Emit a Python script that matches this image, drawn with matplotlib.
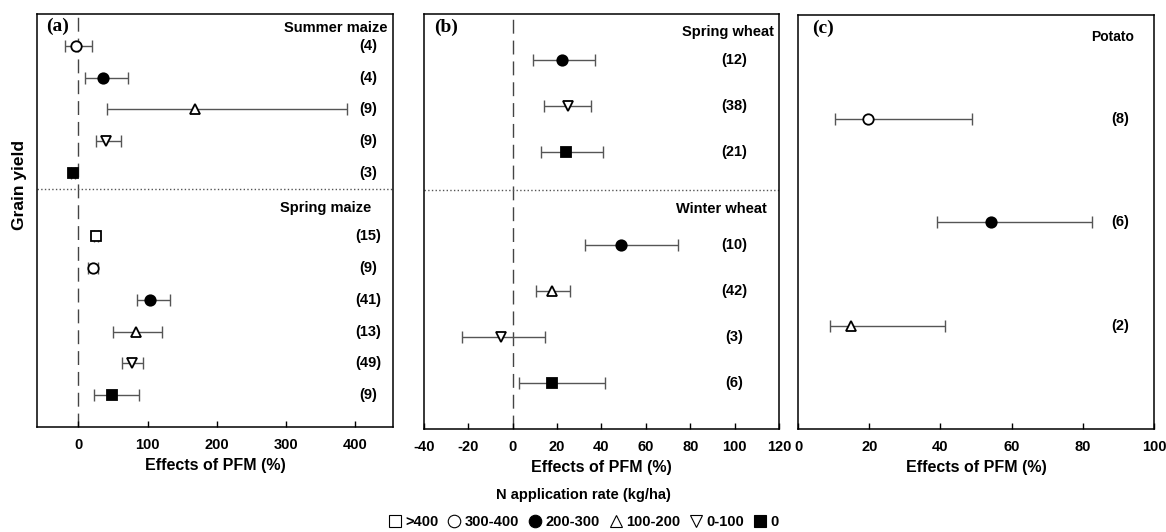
import numpy as np
import matplotlib
matplotlib.use("Agg")
import matplotlib.pyplot as plt
from matplotlib.lines import Line2D

plt.rcParams['font.family'] = ['Liberation Sans', 'DejaVu Sans']
plt.rcParams['axes.unicode_minus'] = False

# N application rate classes
rate_classes = ['>400', '300-400', '200-300', '100-200', '0-100', '0']

# (a) maize
summer_maize_rate = ['300-400', '200-300', '100-200', '0-100', '0']
summer_maize_mean = [-3, 36, 169, 40, -8]
summer_maize_lo = [-20, 10, 42, 25, -11]
summer_maize_hi = [19, 72, 388, 61, -5]
summer_maize_n = [4, 4, 9, 9, 3]

spring_maize_rate = ['>400', '300-400', '200-300', '100-200', '0-100', '0']
spring_maize_mean = [26, 21, 103, 83, 78, 48]
spring_maize_lo = [23, 14, 85, 50, 63, 22]
spring_maize_hi = [29, 29, 133, 121, 93, 88]
spring_maize_n = [15, 9, 41, 13, 49, 9]

# (b) wheat
spring_wheat_rate = ['200-300', '0-100', '0']
spring_wheat_mean = [22.4, 24.8, 23.8]
spring_wheat_lo = [9.3, 14.0, 12.6]
spring_wheat_hi = [36.9, 35.4, 40.5]
spring_wheat_n = [12, 38, 21]

winter_wheat_rate = ['200-300', '100-200', '0-100', '0']
winter_wheat_mean = [49.0, 17.5, -5.4, 17.9]
winter_wheat_lo = [32.6, 10.6, -22.9, 2.9]
winter_wheat_hi = [74.3, 25.6, 14.6, 41.7]
winter_wheat_n = [10, 42, 3, 6]

# (c) potato
potato_rate = ['300-400', '200-300', '100-200']
potato_mean = [19.8, 54.2, 14.8]
potato_lo = [10.5, 39.1, 9.0]
potato_hi = [49.0, 82.6, 41.3]
potato_n = [8, 6, 2]

styles = {
    '>400': ('s', 'white'),
    '300-400': ('o', 'white'),
    '200-300': ('o', 'black'),
    '100-200': ('^', 'white'),
    '0-100': ('v', 'white'),
    '0': ('s', 'black'),
}


def draw_rows(ax, ys, rate, mean, lo, hi, n, nx):
    for y, r, m, l, h, k in zip(ys, rate, mean, lo, hi, n):
        mk, fc = styles[r]
        ax.errorbar(m, y, xerr=[[m - l], [h - m]], fmt='none', ecolor='#555555',
                    elinewidth=1, capsize=4, capthick=1, zorder=2)
        ax.plot(m, y, marker=mk, mfc=fc, mec='black', mew=1.3, ms=7.5, ls='none', zorder=3)
        ax.text(nx, y, '(%d)' % k, transform=ax.get_yaxis_transform(),
                ha='center', va='center', fontsize=10.5, fontweight='bold')


def style_axis(ax, xlim, xticks, ylim):
    ax.set_xlim(*xlim)
    ax.set_ylim(*ylim)
    ax.set_xticks(xticks)
    ax.set_yticks([])
    ax.tick_params(axis='x', direction='in', length=4, width=1, pad=8, labelsize=10.5)
    for lab in ax.get_xticklabels():
        lab.set_fontweight('bold')
    for s in ax.spines.values():
        s.set_linewidth(1.1)
    ax.set_xlabel('Effects of PFM (%)', fontsize=11.5, fontweight='bold', labelpad=4)


fig = plt.figure(figsize=(11.66, 5.32), dpi=100)
ax_a = fig.add_axes([0.0317, 0.1974, 0.3053, 0.7763])
ax_b = fig.add_axes([0.3636, 0.1936, 0.3045, 0.7800])
ax_c = fig.add_axes([0.6844, 0.1936, 0.3053, 0.7780])

# panel a
n1 = len(summer_maize_mean)
ys1 = np.arange(1, n1 + 1)
ys2 = np.arange(n1 + 2, n1 + 2 + len(spring_maize_mean))
draw_rows(ax_a, ys1, summer_maize_rate, summer_maize_mean, summer_maize_lo,
          summer_maize_hi, summer_maize_n, 0.93)
draw_rows(ax_a, ys2, spring_maize_rate, spring_maize_mean, spring_maize_lo,
          spring_maize_hi, spring_maize_n, 0.93)
style_axis(ax_a, (-60, 455), [0, 100, 200, 300, 400], (ys2[-1] + 1, 0))
ax_a.axvline(0, color='#444444', lw=1, ls=(0, (10, 5)), zorder=1)
ax_a.axhline(n1 + 0.5, color='#555555', lw=1, ls=':', zorder=1)
ax_a.text(0.985, 0.45, 'Summer maize', transform=ax_a.get_yaxis_transform(),
          ha='right', va='center', fontsize=10.5, fontweight='bold')
ax_a.text(0.94, n1 + 1.1, 'Spring maize', transform=ax_a.get_yaxis_transform(),
          ha='right', va='center', fontsize=10.5, fontweight='bold')
ax_a.text(0.025, 0.99, '(a)', transform=ax_a.transAxes, ha='left', va='top',
          fontsize=14, fontweight='bold', family='Liberation Serif')

# panel b
m1 = len(spring_wheat_mean)
yb1 = np.arange(1, m1 + 1)
yb2 = np.arange(m1 + 2, m1 + 2 + len(winter_wheat_mean))
draw_rows(ax_b, yb1, spring_wheat_rate, spring_wheat_mean, spring_wheat_lo,
          spring_wheat_hi, spring_wheat_n, 0.873)
draw_rows(ax_b, yb2, winter_wheat_rate, winter_wheat_mean, winter_wheat_lo,
          winter_wheat_hi, winter_wheat_n, 0.873)
style_axis(ax_b, (-40, 120), np.arange(-40, 121, 20), (yb2[-1] + 1, 0))
ax_b.axvline(0, color='#444444', lw=1, ls=(0, (10, 5)), zorder=1)
ax_b.axhline(m1 + 0.82, color='#555555', lw=1, ls=':', zorder=1)
ax_b.text(0.985, 0.4, 'Spring wheat', transform=ax_b.get_yaxis_transform(),
          ha='right', va='center', fontsize=10.5, fontweight='bold')
ax_b.text(0.965, m1 + 1.23, 'Winter wheat', transform=ax_b.get_yaxis_transform(),
          ha='right', va='center', fontsize=10.5, fontweight='bold')
ax_b.text(0.03, 0.99, '(b)', transform=ax_b.transAxes, ha='left', va='top',
          fontsize=14, fontweight='bold', family='Liberation Serif')

# panel c
yc = np.arange(1, len(potato_mean) + 1)
draw_rows(ax_c, yc, potato_rate, potato_mean, potato_lo, potato_hi, potato_n, 0.906)
style_axis(ax_c, (0, 100), np.arange(0, 101, 20), (yc[-1] + 1, 0))
ax_c.text(0.945, 0.21, 'Potato', transform=ax_c.get_yaxis_transform(),
          ha='right', va='center', fontsize=10, fontweight='bold')
ax_c.text(0.04, 0.99, '(c)', transform=ax_c.transAxes, ha='left', va='top',
          fontsize=14, fontweight='bold', family='Liberation Serif')

fig.text(20 / 1166, 1 - 185 / 532, 'Grain yield', rotation=90, ha='center', va='center',
         fontsize=12.5, fontweight='bold')
fig.text(0.5, 1 - 495 / 532, 'N application rate (kg/ha)', ha='center', va='center',
         fontsize=10.5, fontweight='bold')

handles = []
for r in rate_classes:
    mk, fc = styles[r]
    handles.append(Line2D([], [], marker=mk, mfc=fc, mec='black', mew=0.8, ms=9, ls='none'))
fig.legend(handles, rate_classes, loc='center', bbox_to_anchor=(0.5, 1 - 522 / 532),
           ncol=6, frameon=False, handletextpad=0.2, columnspacing=0.6,
           prop={'weight': 'bold', 'size': 10.5}, handlelength=1.0)

fig.savefig('out.png', dpi=100)
